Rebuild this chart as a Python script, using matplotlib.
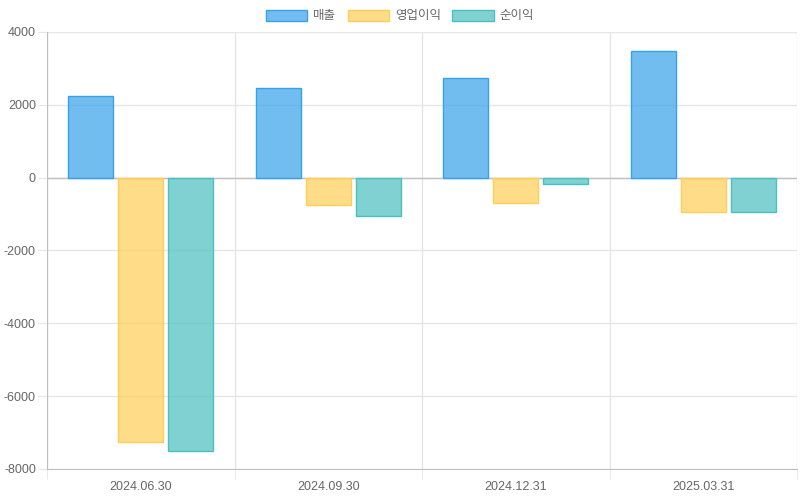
import numpy as np
import matplotlib.pyplot as plt
from matplotlib.patches import Patch

plt.rcParams['font.family'] = ['Liberation Sans', 'Noto Sans CJK KR', 'DejaVu Sans']
plt.rcParams['axes.unicode_minus'] = False

# data
dates = ["2024.06.30", "2024.09.30", "2024.12.31", "2025.03.31"]
series_names = ["매출", "영업이익", "순이익"]
revenue = [2250, 2460, 2735, 3480]
op_income = [-7265, -745, -690, -940]
net_income = [-7515, -1050, -180, -940]

fills = [(54/255, 162/255, 235/255, 0.7), (255/255, 206/255, 86/255, 0.7), (75/255, 192/255, 192/255, 0.7)]
edges = ["#36a2eb", "#ffce56", "#4bc0c0"]
grid_c = "#e6e6e6"
axis_c = "#bfbfbf"

fig = plt.figure(figsize=(8, 5), dpi=100)
ax = fig.add_axes([47/800, 1 - 469/500, 750/800, 437/500])
ax.set_axisbelow(True)

x = np.arange(len(dates))
slot = 0.8 / 3
width = slot * 0.9
for i, vals in enumerate([revenue, op_income, net_income]):
    ax.bar(x + (i - 1) * slot, vals, width, color=fills[i], edgecolor=edges[i],
           linewidth=1, zorder=3)

ax.set_xlim(-0.5, len(dates) - 0.5)
ax.set_ylim(-8000, 4000)
ax.set_yticks(range(-8000, 4001, 2000))
ax.set_xticks(x)
ax.set_xticklabels(dates)
ax.set_xticks(np.arange(-0.5, len(dates), 1.0), minor=True)

ax.grid(axis="y", which="major", color=grid_c, linewidth=1)
ax.grid(axis="x", which="minor", color=grid_c, linewidth=1)
ax.axhline(0, color=axis_c, linewidth=1, zorder=2)

for s in ["top", "right"]:
    ax.spines[s].set_visible(False)
ax.spines["left"].set_color(axis_c)
ax.spines["bottom"].set_color(axis_c)

ax.tick_params(axis="y", length=6.5, color=grid_c, labelsize=9, labelcolor="#666666", pad=1.5)
ax.tick_params(axis="x", which="major", length=0, labelsize=9, labelcolor="#666666", pad=9)
ax.tick_params(axis="x", which="minor", length=7.2, color=grid_c)

handles = [Patch(facecolor=fills[i], edgecolor=edges[i], linewidth=1) for i in range(3)]
fig.legend(handles, series_names, loc="center", bbox_to_anchor=(0.5, 1 - 16/500), ncol=3,
           frameon=False, fontsize=9, labelcolor="#666666", handlelength=3.3, handleheight=1.0,
           handletextpad=0.5, columnspacing=0.9, borderaxespad=0)

fig.savefig("out.png", dpi=100)
